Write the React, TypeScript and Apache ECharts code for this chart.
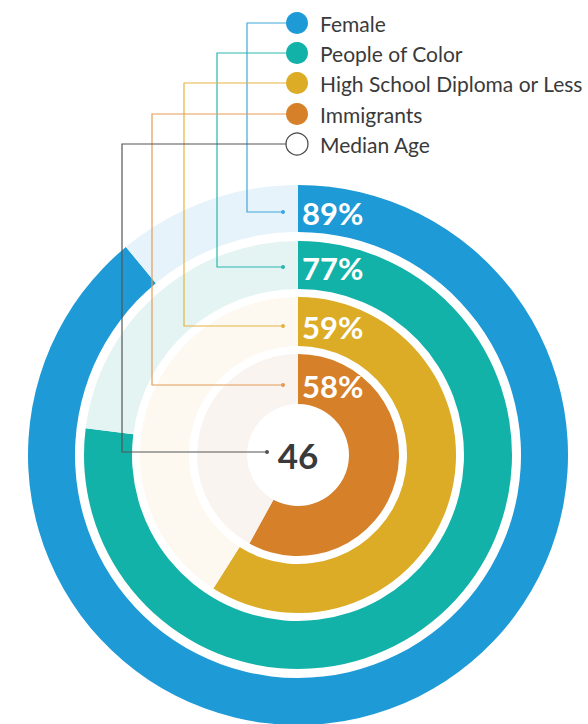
import React, { useEffect, useRef } from "react";
import * as echarts from "echarts";

// ---- data ----
const categories = ["Female", "People of Color", "High School Diploma or Less", "Immigrants"];
const values = [89, 77, 59, 58];
const medianAgeLabel = "Median Age";
const medianAge = 46;

// ---- styles ----
const colors = ["#1E9AD6", "#12B2A9", "#DCAC27", "#D6812A"];
const trackColors = ["#E6F3FA", "#E4F4F2", "#FDF9F1", "#FAF4F0"];
const lineColors = ["#3FA7DB", "#2BB6AE", "#E3B443", "#E49B56", "#555555"];

const CX = 298;
const CY = 455;
const rings: [number, number][] = [
  [223, 270],
  [166, 214],
  [109, 158],
  [51, 101],
];
const legendX = 297;
const legendYs = [23, 53, 83, 114, 144];
const connectorXs = [247, 217, 184, 152, 122];
const rowYs = [212, 267, 326, 385, 452];
const FONT = "Lato, 'Open Sans', sans-serif";

export default function App() {
  const ref = useRef<HTMLDivElement>(null);
  useEffect(() => {
    if (!ref.current) return;
    const chart = echarts.init(ref.current, undefined, { renderer: "svg" });

    const series: any[] = values.map((v, i) => ({
      type: "pie",
      name: categories[i],
      center: [CX, CY],
      radius: rings[i],
      startAngle: 90,
      clockwise: true,
      silent: true,
      label: { show: false },
      labelLine: { show: false },
      emphasis: { disabled: true },
      itemStyle: { borderWidth: 0 },
      data: [
        { name: categories[i], value: v, itemStyle: { color: colors[i] } },
        { name: "rest", value: 100 - v, itemStyle: { color: trackColors[i] } },
      ],
    }));

    const graphics: any[] = [];
    const allLabels = [...categories, medianAgeLabel];
    allLabels.forEach((name, i) => {
      const ly = legendYs[i];
      const endX = i < 4 ? 283 : 267;
      graphics.push({
        type: "polyline",
        z: 100,
        shape: {
          points: [
            [legendX - 11, ly],
            [connectorXs[i], ly],
            [connectorXs[i], rowYs[i]],
            [endX, rowYs[i]],
          ],
        },
        style: { stroke: lineColors[i], lineWidth: 1.2, fill: null },
      });
      graphics.push({
        type: "circle",
        z: 101,
        shape: { cx: endX, cy: rowYs[i], r: 2 },
        style: { fill: lineColors[i] },
      });
      graphics.push({
        type: "circle",
        z: 101,
        shape: { cx: legendX, cy: ly, r: 11 },
        style:
          i < 4
            ? { fill: colors[i] }
            : { fill: "#ffffff", stroke: "#444444", lineWidth: 1.2 },
      });
      graphics.push({
        type: "text",
        z: 101,
        x: 320,
        y: ly,
        style: {
          text: name,
          fill: "#3a3a3a",
          font: `21px ${FONT}`,
          textAlign: "left",
          textVerticalAlign: "middle",
          align: "left",
          verticalAlign: "middle",
        },
      });
    });

    values.forEach((v, i) => {
      graphics.push({
        type: "text",
        z: 102,
        x: 302,
        y: rowYs[i] + 1,
        style: {
          text: `${v}%`,
          fill: "#ffffff",
          font: `bold 31px ${FONT}`,
          textAlign: "left",
          textVerticalAlign: "middle",
          align: "left",
          verticalAlign: "middle",
        },
      });
    });

    graphics.push({
      type: "text",
      z: 102,
      x: CX,
      y: CY,
      style: {
        text: String(medianAge),
        fill: "#3a3a3a",
        font: `bold 35px ${FONT}`,
        textAlign: "center",
        textVerticalAlign: "middle",
        align: "center",
        verticalAlign: "middle",
      },
    });

    chart.setOption({
      animation: false,
      backgroundColor: "#ffffff",
      series,
      graphic: { elements: graphics },
    });
    return () => chart.dispose();
  }, []);

  return (
    <div
      ref={ref}
      style={{ position: "fixed", left: 0, top: 0, width: 588, height: 724 }}
    />
  );
}
